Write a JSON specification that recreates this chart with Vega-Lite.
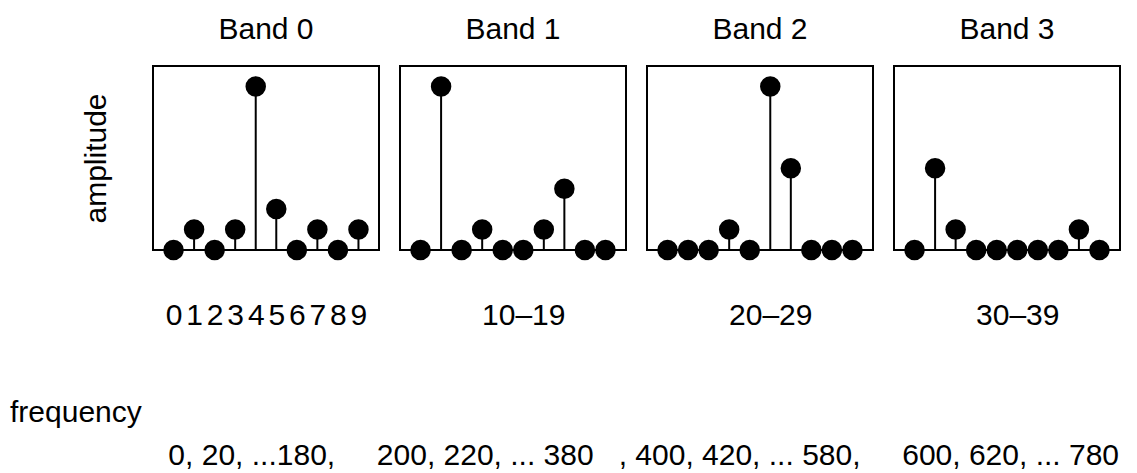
{
  "$schema": "https://vega.github.io/schema/vega-lite/v6.json",
  "padding": {"left": 10, "top": 14, "right": 0, "bottom": 0},
  "background": "white",
  "config": {
    "font": "Liberation Sans",
    "view": {"stroke": "black", "strokeWidth": 2},
    "concat": {"spacing": 19},
    "title": {"fontSize": 30, "fontWeight": "normal", "color": "black", "font": "Liberation Sans", "subtitleFontSize": 30, "subtitleColor": "black", "subtitleFont": "Liberation Sans"},
    "axis": {"labelFont": "Liberation Sans", "labelFontSize": 30, "labelColor": "black", "titleFont": "Liberation Sans", "titleFontSize": 30, "titleFontWeight": "normal", "titleColor": "black", "domain": false, "ticks": false, "tickSize": 0, "grid": false}
  },
  "data": {"values": [
    {"band": 0, "bin": 0, "amp": 0}, {"band": 0, "bin": 1, "amp": 1}, {"band": 0, "bin": 2, "amp": 0}, {"band": 0, "bin": 3, "amp": 1}, {"band": 0, "bin": 4, "amp": 8},
    {"band": 0, "bin": 5, "amp": 2}, {"band": 0, "bin": 6, "amp": 0}, {"band": 0, "bin": 7, "amp": 1}, {"band": 0, "bin": 8, "amp": 0}, {"band": 0, "bin": 9, "amp": 1},
    {"band": 1, "bin": 10, "amp": 0}, {"band": 1, "bin": 11, "amp": 8}, {"band": 1, "bin": 12, "amp": 0}, {"band": 1, "bin": 13, "amp": 1}, {"band": 1, "bin": 14, "amp": 0},
    {"band": 1, "bin": 15, "amp": 0}, {"band": 1, "bin": 16, "amp": 1}, {"band": 1, "bin": 17, "amp": 3}, {"band": 1, "bin": 18, "amp": 0}, {"band": 1, "bin": 19, "amp": 0},
    {"band": 2, "bin": 20, "amp": 0}, {"band": 2, "bin": 21, "amp": 0}, {"band": 2, "bin": 22, "amp": 0}, {"band": 2, "bin": 23, "amp": 1}, {"band": 2, "bin": 24, "amp": 0},
    {"band": 2, "bin": 25, "amp": 8}, {"band": 2, "bin": 26, "amp": 4}, {"band": 2, "bin": 27, "amp": 0}, {"band": 2, "bin": 28, "amp": 0}, {"band": 2, "bin": 29, "amp": 0},
    {"band": 3, "bin": 30, "amp": 0}, {"band": 3, "bin": 31, "amp": 4}, {"band": 3, "bin": 32, "amp": 1}, {"band": 3, "bin": 33, "amp": 0}, {"band": 3, "bin": 34, "amp": 0},
    {"band": 3, "bin": 35, "amp": 0}, {"band": 3, "bin": 36, "amp": 0}, {"band": 3, "bin": 37, "amp": 0}, {"band": 3, "bin": 38, "amp": 1}, {"band": 3, "bin": 39, "amp": 0}
  ]},
  "title": {
    "text": "frequency",
    "subtitle": "\u200b\u00a0\u00a0\u00a0\u00a0\u00a0\u00a0\u00a0\u00a0\u00a0\u00a0\u00a0\u00a0\u00a0\u00a0\u00a0\u00a0\u00a0\u00a0\u00a00, 20, ...180,\u00a0\u00a0\u00a0\u00a0\u00a0200, 220, ... 380\u00a0\u00a0\u00a0, 400, 420, ... 580,\u00a0\u00a0\u00a0\u00a0\u00a0600, 620, ... 780",
    "orient": "bottom",
    "anchor": "start",
    "frame": "bounds",
    "dx": -70,
    "offset": 67,
    "subtitlePadding": 13
  },
  "hconcat": [
    {
      "width": 226, "height": 184,
      "title": {"text": "Band 0", "offset": 21},
      "transform": [{"filter": "datum.band == 0"}],
      "encoding": {
        "x": {"field": "bin", "type": "quantitative", "scale": {"domain": [-1, 10], "nice": false, "zero": false},
              "axis": {"values": [0, 1, 2, 3, 4, 5, 6, 7, 8, 9], "title": null, "labelPadding": 50, "labelOverlap": false}},
        "y": {"field": "amp", "type": "quantitative", "scale": {"domain": [0, 9], "nice": false},
              "axis": {"title": "amplitude", "labels": false, "titlePadding": 42}}
      },
      "layer": [
        {"mark": {"type": "rule", "color": "black", "strokeWidth": 2}, "encoding": {"y2": {"datum": 0}}},
        {"mark": {"type": "circle", "color": "black", "opacity": 1, "size": 420}}
      ]
    },
    {
      "width": 226, "height": 184,
      "title": {"text": "Band 1", "offset": 21},
      "transform": [{"filter": "datum.band == 1"}],
      "encoding": {
        "x": {"field": "bin", "type": "quantitative", "scale": {"domain": [9, 20], "nice": false, "zero": false},
              "axis": {"values": [15], "labelExpr": "'10\u201319'", "title": null, "labelPadding": 50}},
        "y": {"field": "amp", "type": "quantitative", "scale": {"domain": [0, 9], "nice": false}, "axis": null}
      },
      "layer": [
        {"mark": {"type": "rule", "color": "black", "strokeWidth": 2}, "encoding": {"y2": {"datum": 0}}},
        {"mark": {"type": "circle", "color": "black", "opacity": 1, "size": 420}}
      ]
    },
    {
      "width": 226, "height": 184,
      "title": {"text": "Band 2", "offset": 21},
      "transform": [{"filter": "datum.band == 2"}],
      "encoding": {
        "x": {"field": "bin", "type": "quantitative", "scale": {"domain": [19, 30], "nice": false, "zero": false},
              "axis": {"values": [25], "labelExpr": "'20\u201329'", "title": null, "labelPadding": 50}},
        "y": {"field": "amp", "type": "quantitative", "scale": {"domain": [0, 9], "nice": false}, "axis": null}
      },
      "layer": [
        {"mark": {"type": "rule", "color": "black", "strokeWidth": 2}, "encoding": {"y2": {"datum": 0}}},
        {"mark": {"type": "circle", "color": "black", "opacity": 1, "size": 420}}
      ]
    },
    {
      "width": 226, "height": 184,
      "title": {"text": "Band 3", "offset": 21},
      "transform": [{"filter": "datum.band == 3"}],
      "encoding": {
        "x": {"field": "bin", "type": "quantitative", "scale": {"domain": [29, 40], "nice": false, "zero": false},
              "axis": {"values": [35], "labelExpr": "'30\u201339'", "title": null, "labelPadding": 50}},
        "y": {"field": "amp", "type": "quantitative", "scale": {"domain": [0, 9], "nice": false}, "axis": null}
      },
      "layer": [
        {"mark": {"type": "rule", "color": "black", "strokeWidth": 2}, "encoding": {"y2": {"datum": 0}}},
        {"mark": {"type": "circle", "color": "black", "opacity": 1, "size": 420}}
      ]
    }
  ]
}
